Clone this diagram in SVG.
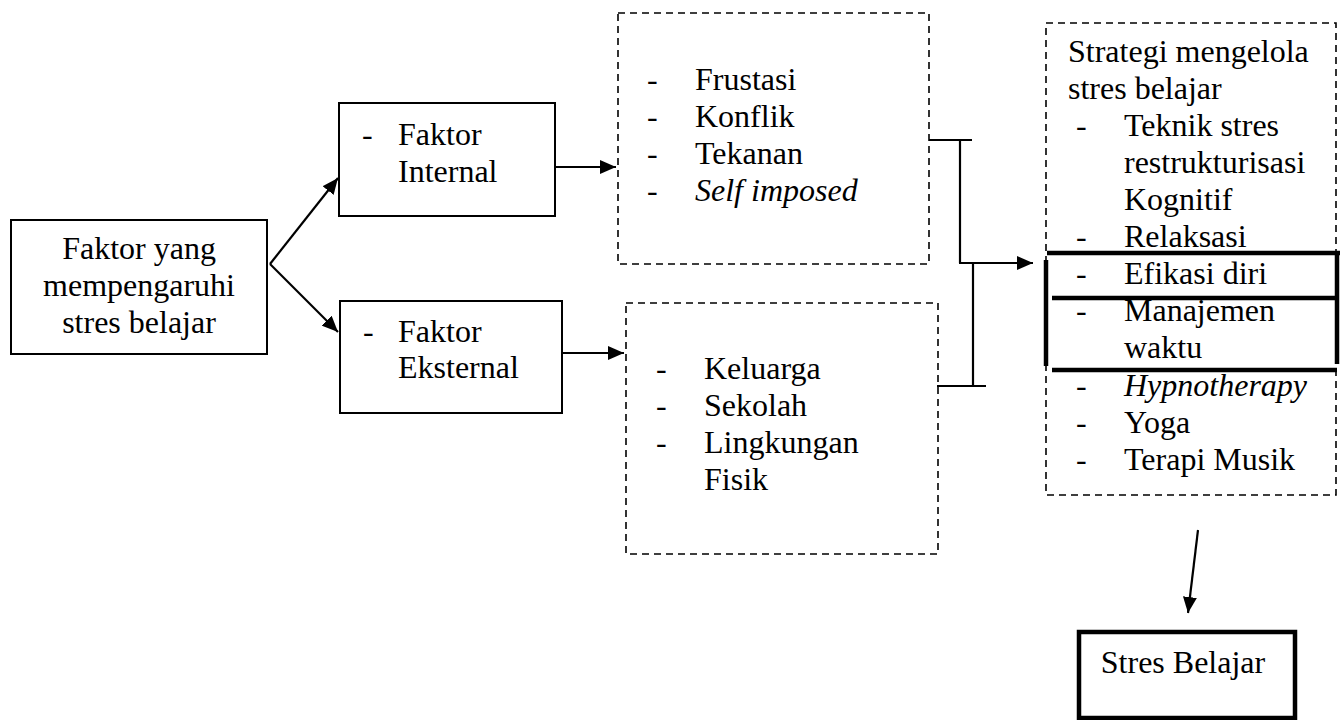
<svg xmlns="http://www.w3.org/2000/svg" width="1340" height="720" viewBox="0 0 1340 720" font-family="'Liberation Serif', 'Times New Roman', Tinos, 'DejaVu Serif', serif" font-size="32">
<style>
.box{fill:none;stroke:#000;stroke-width:2}
.dash{fill:none;stroke:#000;stroke-width:1.6;stroke-dasharray:7 5}
.thick{fill:none;stroke:#000;stroke-width:4.5}
.con{fill:none;stroke:#000;stroke-width:2.2}
.it{font-style:italic}
</style>
<defs>
<marker id="ah" markerUnits="userSpaceOnUse" markerWidth="18" markerHeight="14" refX="16" refY="7" orient="auto">
<path d="M0,0 L16,7 L0,14 Z" fill="#000"/>
</marker>
</defs>
<rect width="1340" height="720" fill="#fff"/>
<g id="faktor">
<rect class="box" x="11" y="220" width="256" height="134"/>
<text x="139" y="259" text-anchor="middle">Faktor yang</text>
<text x="139" y="296" text-anchor="middle">mempengaruhi</text>
<text x="139" y="333" text-anchor="middle">stres belajar</text>
</g>
<g id="internal">
<rect class="box" x="339" y="103" width="216" height="113"/>
<text x="362" y="145">-</text>
<text x="398" y="145">Faktor</text>
<text x="398" y="182">Internal</text>
</g>
<g id="eksternal">
<rect class="box" x="340" y="301" width="222" height="112"/>
<text x="363" y="342">-</text>
<text x="398" y="342">Faktor</text>
<text x="398" y="378">Eksternal</text>
</g>
<g id="internal-list">
<rect class="dash" x="618" y="13" width="311" height="251"/>
<text x="647" y="90">-</text><text x="695" y="90">Frustasi</text>
<text x="647" y="127">-</text><text x="695" y="127">Konflik</text>
<text x="647" y="164">-</text><text x="695" y="164">Tekanan</text>
<text x="647" y="201">-</text><text x="695" y="201" class="it">Self imposed</text>
</g>
<g id="eksternal-list">
<rect class="dash" x="626" y="303" width="312" height="251"/>
<text x="656" y="379">-</text><text x="704" y="379">Keluarga</text>
<text x="656" y="416">-</text><text x="704" y="416">Sekolah</text>
<text x="656" y="453">-</text><text x="704" y="453">Lingkungan</text>
<text x="704" y="490">Fisik</text>
</g>
<g id="strategi">
<rect class="dash" x="1046" y="23" width="290" height="472"/>
<line class="thick" x1="1047" y1="253" x2="1340" y2="253"/>
<line class="thick" x1="1337" y1="251" x2="1337" y2="364"/>
<line class="thick" x1="1046" y1="260" x2="1046" y2="366"/>
<line class="thick" x1="1052" y1="298" x2="1337" y2="298"/>
<line class="thick" x1="1052" y1="370" x2="1337" y2="370"/>
<text x="1068" y="62">Strategi mengelola</text>
<text x="1068" y="99">stres belajar</text>
<text x="1076" y="136">-</text><text x="1124" y="136">Teknik stres</text>
<text x="1124" y="173">restrukturisasi</text>
<text x="1124" y="210">Kognitif</text>
<text x="1076" y="247">-</text><text x="1124" y="247">Relaksasi</text>
<text x="1076" y="284">-</text><text x="1124" y="284">Efikasi diri</text>
<text x="1076" y="321">-</text><text x="1124" y="321">Manajemen</text>
<text x="1124" y="358">waktu</text>
<text x="1076" y="396">-</text><text x="1124" y="396" class="it">Hypnotherapy</text>
<text x="1076" y="433">-</text><text x="1124" y="433">Yoga</text>
<text x="1076" y="470">-</text><text x="1124" y="470">Terapi Musik</text>
</g>
<g id="stres-belajar">
<rect class="thick" x="1079" y="632" width="216" height="86"/>
<text x="1183" y="673" text-anchor="middle">Stres Belajar</text>
</g>
<g id="connectors">
<line class="con" x1="270" y1="264" x2="338" y2="178" marker-end="url(#ah)"/>
<line class="con" x1="270" y1="264" x2="338" y2="332" marker-end="url(#ah)"/>
<line class="con" x1="555" y1="167" x2="616" y2="167" marker-end="url(#ah)"/>
<line class="con" x1="562" y1="353" x2="624" y2="353" marker-end="url(#ah)"/>
<line class="con" x1="929" y1="140" x2="972" y2="140"/>
<line class="con" x1="960" y1="140" x2="960" y2="263"/>
<line class="con" x1="959" y1="263" x2="1033" y2="263" marker-end="url(#ah)"/>
<line class="con" x1="973" y1="263" x2="973" y2="386"/>
<line class="con" x1="937" y1="386" x2="986" y2="386"/>
<line class="con" x1="1198" y1="530" x2="1188" y2="613" marker-end="url(#ah)"/>
</g>
</svg>
